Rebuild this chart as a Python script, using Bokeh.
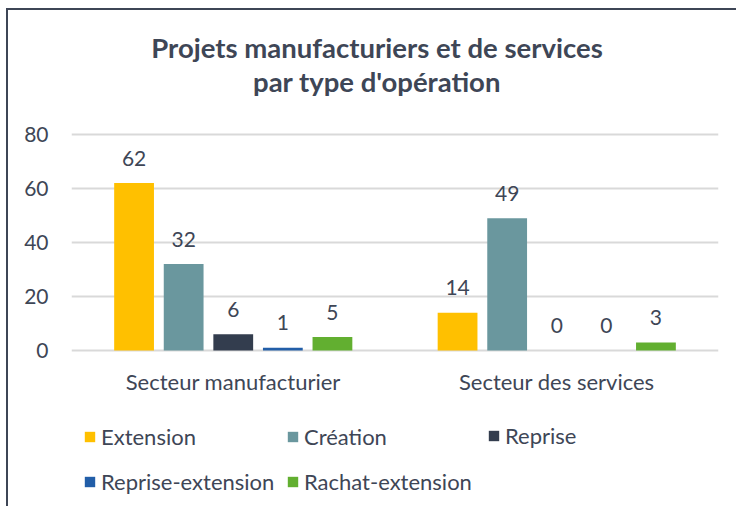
from bokeh.plotting import figure
from bokeh.models import FactorRange, Range1d, Legend, LegendItem, ColumnDataSource, FixedTicker, Label
from bokeh.transform import dodge
from bokeh.core.properties import value
from bokeh.embed import file_html
from bokeh.resources import INLINE

sectors = ["Secteur manufacturier", "Secteur des services"]
series = ["Extension", "Création", "Reprise", "Reprise-extension", "Rachat-extension"]
extension = [62, 14]
creation = [32, 49]
reprise = [6, 0]
reprise_ext = [1, 0]
rachat = [5, 3]
y_ticks = [0, 20, 40, 60, 80]
title_lines = ["Projets manufacturiers et de services", "par type d'opération"]

values = [extension, creation, reprise, reprise_ext, rachat]
colors = ["#FFC000", "#6A979E", "#333D4E", "#225EA8", "#62AF30"]
offsets = [-0.3066, -0.1533, 0.0, 0.1533, 0.3066]

TXT = "#3E4656"
FONT = "Lato"

W, H = 730, 498
ZERO_PX = 340          # zero line, px from top of canvas
PX = 2.7               # px per unit
y_top = 80 + (ZERO_PX - 216) / PX
y_bot = -(H - ZERO_PX) / PX

p = figure(x_range=FactorRange(factors=sectors), y_range=Range1d(y_bot, y_top),
           x_axis_location=None,
           width=W, height=H, output_backend="svg", toolbar_location=None,
           min_border_left=63, min_border_right=20, min_border_top=0, min_border_bottom=0)
p.title = None
p.outline_line_color = None
p.background_fill_color = "white"
p.border_fill_color = "white"
p.styles = {"margin-left": "6px", "margin-top": "8px",
            "border-left": "2px solid #3E4656", "border-top": "2px solid #3E4656"}

# title
for txt, yy in zip(title_lines, [461, 427]):
    p.add_layout(Label(x=305.5, y=yy, x_units="screen", y_units="screen", text=txt,
                       text_align="center", text_baseline="middle",
                       text_font=FONT, text_font_size="27.5px", text_font_style="bold",
                       text_color=TXT))

p.xgrid.grid_line_color = None
p.ygrid.ticker = FixedTicker(ticks=y_ticks)
p.ygrid.grid_line_color = "#D9D9D9"
p.ygrid.grid_line_width = 2

renderers = []
for name, vals, col, off in zip(series, values, colors, offsets):
    src = ColumnDataSource(dict(sector=sectors, v=vals, lbl=[str(x) for x in vals]))
    r = p.vbar(x=dodge("sector", off, range=p.x_range), top="v", bottom=0, width=0.123,
               source=src, fill_color=col, line_color=None)
    p.text(x=dodge("sector", off, range=p.x_range), y="v", text="lbl", source=src,
           text_align="center", text_baseline="middle", y_offset=-25,
           text_font=value(FONT), text_font_size="21px", text_color=TXT)
    renderers.append((name, r))

# category labels under the zero line
cat_src = ColumnDataSource(dict(sector=sectors, y=[0, 0]))
p.text(x="sector", y="y", text="sector", source=cat_src, text_align="center",
       text_baseline="middle", y_offset=30.8, text_font=value(FONT),
       text_font_size="22px", text_color=TXT)

p.yaxis.ticker = FixedTicker(ticks=y_ticks)
p.yaxis.axis_line_color = None
p.yaxis.major_tick_line_color = None
p.yaxis.minor_tick_line_color = None
p.yaxis.major_tick_out = 0
p.yaxis.major_label_standoff = 23
p.yaxis.major_label_text_font = FONT
p.yaxis.major_label_text_font_size = "21px"
p.yaxis.major_label_text_color = TXT

# legend: three columns of a 3x2 grid
cols = [[0, 3], [1, 4], [2]]
col_x = [12, 215, 416]
for idxs, cx in zip(cols, col_x):
    n = len(idxs)
    lg = Legend(items=[LegendItem(label=renderers[i][0], renderers=[renderers[i][1]]) for i in idxs],
                orientation="vertical", location=(cx, 13.5 if n == 2 else 59), spacing=18,
                padding=0, margin=0, glyph_width=13, glyph_height=13, label_standoff=5,
                label_text_font=FONT, label_text_font_size="22px", label_text_color=TXT,
                background_fill_alpha=0, border_line_color=None, label_height=20)
    p.add_layout(lg, "center")

open("out.html", "w").write(file_html(p, INLINE))
